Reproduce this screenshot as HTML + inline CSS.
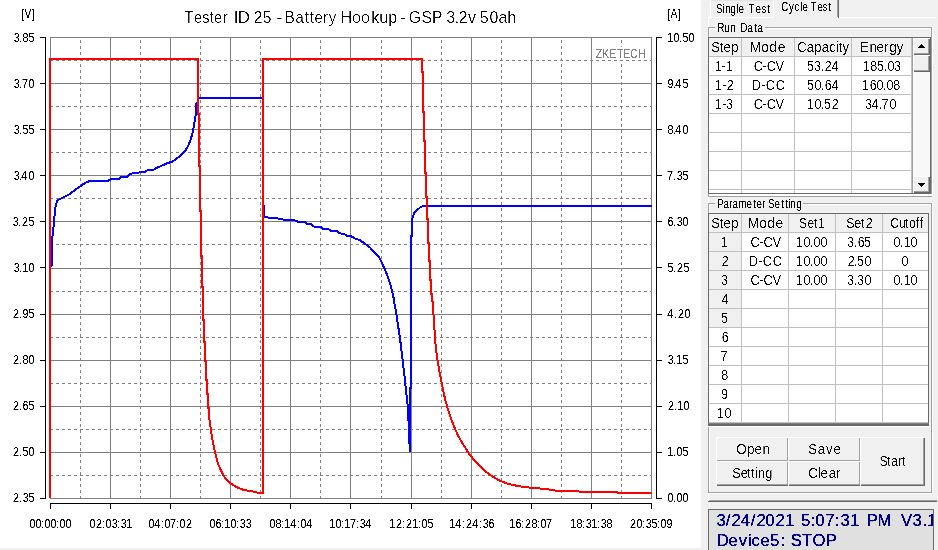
<!DOCTYPE html>
<html lang="en">
<head>
<meta charset="utf-8">
<title>Tester ID 25 - Battery Hookup - GSP 3.2v 50ah</title>
<style>
html,body{margin:0;padding:0;background:#f0f0f0;overflow:hidden}
body{width:938px;height:550px;position:relative;font-family:"Liberation Sans",Arial,sans-serif;font-size:12px;color:#000}
svg{display:block}
.chart{position:absolute;left:0;top:0}
.panel{position:absolute;left:0;top:0;width:938px;height:550px;overflow:hidden;clip-path:inset(0 0 0 701px)}
.panel>div{position:absolute;box-sizing:border-box}
.ptext{position:absolute;left:0;top:0;pointer-events:none}
.ptext text{white-space:pre}
</style>
</head>
<body>
<svg class="chart" width="701" height="548" viewBox="0 0 701 548">
<defs><filter id="crisp" x="-5%" y="-5%" width="110%" height="110%" color-interpolation-filters="sRGB"><feComponentTransfer><feFuncA type="linear" slope="5" intercept="-1.75"/></feComponentTransfer></filter></defs>
<rect x="0" y="0" width="701" height="548" fill="#fff"/>
<g class="grid" stroke="#808080" stroke-width="1" shape-rendering="crispEdges" fill="none">
<line x1="50.5" y1="37" x2="50.5" y2="499"/>
<line x1="80.5" y1="38" x2="80.5" y2="498" stroke-dasharray="3 3" stroke-dashoffset="4"/>
<line x1="110.5" y1="37" x2="110.5" y2="499"/>
<line x1="140.5" y1="38" x2="140.5" y2="498" stroke-dasharray="3 3" stroke-dashoffset="4"/>
<line x1="170.5" y1="37" x2="170.5" y2="499"/>
<line x1="200.5" y1="38" x2="200.5" y2="498" stroke-dasharray="3 3" stroke-dashoffset="4"/>
<line x1="230.5" y1="37" x2="230.5" y2="499"/>
<line x1="260.5" y1="38" x2="260.5" y2="498" stroke-dasharray="3 3" stroke-dashoffset="4"/>
<line x1="290.5" y1="37" x2="290.5" y2="499"/>
<line x1="320.5" y1="38" x2="320.5" y2="498" stroke-dasharray="3 3" stroke-dashoffset="4"/>
<line x1="350.5" y1="37" x2="350.5" y2="499"/>
<line x1="381.5" y1="38" x2="381.5" y2="498" stroke-dasharray="3 3" stroke-dashoffset="4"/>
<line x1="411.5" y1="37" x2="411.5" y2="499"/>
<line x1="441.5" y1="38" x2="441.5" y2="498" stroke-dasharray="3 3" stroke-dashoffset="4"/>
<line x1="471.5" y1="37" x2="471.5" y2="499"/>
<line x1="501.5" y1="38" x2="501.5" y2="498" stroke-dasharray="3 3" stroke-dashoffset="4"/>
<line x1="531.5" y1="37" x2="531.5" y2="499"/>
<line x1="561.5" y1="38" x2="561.5" y2="498" stroke-dasharray="3 3" stroke-dashoffset="4"/>
<line x1="591.5" y1="37" x2="591.5" y2="499"/>
<line x1="621.5" y1="38" x2="621.5" y2="498" stroke-dasharray="3 3" stroke-dashoffset="4"/>
<line x1="651.5" y1="37" x2="651.5" y2="499"/>
<line x1="50" y1="37.5" x2="652" y2="37.5"/>
<line x1="51" y1="60.5" x2="651" y2="60.5" stroke-dasharray="3 3" stroke-dashoffset="1"/>
<line x1="50" y1="83.5" x2="652" y2="83.5"/>
<line x1="51" y1="106.5" x2="651" y2="106.5" stroke-dasharray="3 3" stroke-dashoffset="1"/>
<line x1="50" y1="129.5" x2="652" y2="129.5"/>
<line x1="51" y1="152.5" x2="651" y2="152.5" stroke-dasharray="3 3" stroke-dashoffset="1"/>
<line x1="50" y1="175.5" x2="652" y2="175.5"/>
<line x1="51" y1="198.5" x2="651" y2="198.5" stroke-dasharray="3 3" stroke-dashoffset="1"/>
<line x1="50" y1="221.5" x2="652" y2="221.5"/>
<line x1="51" y1="244.5" x2="651" y2="244.5" stroke-dasharray="3 3" stroke-dashoffset="1"/>
<line x1="50" y1="268.5" x2="652" y2="268.5"/>
<line x1="51" y1="291.5" x2="651" y2="291.5" stroke-dasharray="3 3" stroke-dashoffset="1"/>
<line x1="50" y1="314.5" x2="652" y2="314.5"/>
<line x1="51" y1="337.5" x2="651" y2="337.5" stroke-dasharray="3 3" stroke-dashoffset="1"/>
<line x1="50" y1="360.5" x2="652" y2="360.5"/>
<line x1="51" y1="383.5" x2="651" y2="383.5" stroke-dasharray="3 3" stroke-dashoffset="1"/>
<line x1="50" y1="406.5" x2="652" y2="406.5"/>
<line x1="51" y1="429.5" x2="651" y2="429.5" stroke-dasharray="3 3" stroke-dashoffset="1"/>
<line x1="50" y1="452.5" x2="652" y2="452.5"/>
<line x1="51" y1="475.5" x2="651" y2="475.5" stroke-dasharray="3 3" stroke-dashoffset="1"/>
<line x1="50" y1="498.5" x2="652" y2="498.5"/>
</g>
<polyline class="voltage" points="51.5,267 52,250 52.5,236 53.5,227 54,221 55,212 55.5,207 56.9,201.4 58.8,199.5 64,197 70.1,193.9 75,190 80.1,186.4 85,183 90.2,180.7 108.3,180.7 111.5,179.1 119,179.1 121.5,176.7 127.8,176.7 130.3,173.8 136.6,172.8 145.3,171.9 147.9,169.8 153.5,169.8 156,168.2 161,166 167,163.3 172.6,161.5 180.2,155.8 185.2,150.8 188.3,145.8 190.8,138.9 192.7,132.6 194.2,123.8 195.8,113.8 196.5,103.2 198,102.5 198,98 262.5,98 263,98 263,205.5 264,205.5 264,217 268.8,217.6 277.6,218.5 283.9,219.7 295.2,220.5 297.7,221.7 304.6,221.7 306.4,223.9 310.8,223.9 314,226.6 320.2,226.6 322.8,228.9 328.4,228.9 330.9,231 337.2,231 339.7,233.3 344.7,234.3 347.2,236 351.6,236.5 355,238.5 360,240.3 365.1,243.8 370.1,247.6 374.5,252.6 378.9,257 382,263.2 384.5,268.3 387.7,276.4 390.2,284 392.1,291.5 393.7,298.4 394.5,303.8 396.3,313.8 398.2,326.4 400.1,338.9 401.6,351.5 403,363.4 404.5,376.3 406.1,391.4 407.4,402.7 408.3,412.7 408.9,435.7 410,450.7 410.2,388 411,388 411,236 412,236 412,221 412.9,216.4 414.5,212.6 417.6,209.5 420.8,207 423.3,206.1 651.5,206.1" fill="none" stroke="#0000ff" stroke-width="2" stroke-linejoin="round" shape-rendering="crispEdges"/>
<polyline class="current" points="50,498 50,59 198,59 198,114 199,114 199,166 200,166 200,211 200.9,211 200.9,256 202,256 202,287 202.8,287 202.8,320 203.8,320 203.8,342 205,342 205,361 206,361 206,380 207,380 207,394 208,394 208,408 209.1,408 209.1,417 210.7,428.8 212.9,442.6 215.1,452.6 217.6,462.7 220.8,470.2 223.8,476.3 230.1,483.2 236.4,487 243.9,490.1 252.7,491.4 257.7,492.7 263,492.7 263,59 422,59 422,72 423,72 423,112 424,112 424,141 425,141 425,173 426,173 426,197 427,197 427,219 428,219 428,243 429.1,243 429.1,261 430.1,261 430.1,280 431.1,280 431.1,294 432,294 432.9,307 434,322 435,338 436.1,350 437.8,362 439.6,372.5 442.1,385.1 445.3,400.2 449,412.7 453.4,425 457.8,435 462.8,443.8 469.1,453.9 476.3,462.6 483.8,470.1 491.3,475.8 498.9,480.2 507.6,483.7 517.7,486 530.2,487.7 545.3,488.9 555.3,490.6 576.6,490.6 579.2,491.7 616.7,491.7 617.5,492.9 650.5,492.9 651,494" fill="none" stroke="#ff0000" stroke-width="2" stroke-linejoin="round" shape-rendering="crispEdges"/>
<g class="axes" stroke="#000" stroke-width="1" shape-rendering="crispEdges" fill="none">
<line x1="45.5" y1="37" x2="45.5" y2="499"/>
<line x1="656.5" y1="37" x2="656.5" y2="499"/>
<line x1="50" y1="503.5" x2="652" y2="503.5"/>
<line x1="40" y1="37.5" x2="46" y2="37.5"/>
<line x1="656" y1="37.5" x2="662" y2="37.5"/>
<line x1="50.5" y1="503" x2="50.5" y2="509"/>
<line x1="40" y1="83.5" x2="46" y2="83.5"/>
<line x1="656" y1="83.5" x2="662" y2="83.5"/>
<line x1="110.5" y1="503" x2="110.5" y2="509"/>
<line x1="40" y1="129.5" x2="46" y2="129.5"/>
<line x1="656" y1="129.5" x2="662" y2="129.5"/>
<line x1="170.5" y1="503" x2="170.5" y2="509"/>
<line x1="40" y1="175.5" x2="46" y2="175.5"/>
<line x1="656" y1="175.5" x2="662" y2="175.5"/>
<line x1="230.5" y1="503" x2="230.5" y2="509"/>
<line x1="40" y1="221.5" x2="46" y2="221.5"/>
<line x1="656" y1="221.5" x2="662" y2="221.5"/>
<line x1="290.5" y1="503" x2="290.5" y2="509"/>
<line x1="40" y1="267.5" x2="46" y2="267.5"/>
<line x1="656" y1="267.5" x2="662" y2="267.5"/>
<line x1="350.5" y1="503" x2="350.5" y2="509"/>
<line x1="40" y1="314.5" x2="46" y2="314.5"/>
<line x1="656" y1="314.5" x2="662" y2="314.5"/>
<line x1="411.5" y1="503" x2="411.5" y2="509"/>
<line x1="40" y1="360.5" x2="46" y2="360.5"/>
<line x1="656" y1="360.5" x2="662" y2="360.5"/>
<line x1="471.5" y1="503" x2="471.5" y2="509"/>
<line x1="40" y1="406.5" x2="46" y2="406.5"/>
<line x1="656" y1="406.5" x2="662" y2="406.5"/>
<line x1="531.5" y1="503" x2="531.5" y2="509"/>
<line x1="40" y1="452.5" x2="46" y2="452.5"/>
<line x1="656" y1="452.5" x2="662" y2="452.5"/>
<line x1="591.5" y1="503" x2="591.5" y2="509"/>
<line x1="40" y1="498.5" x2="46" y2="498.5"/>
<line x1="656" y1="498.5" x2="662" y2="498.5"/>
<line x1="651.5" y1="503" x2="651.5" y2="509"/>
</g>
<rect x="594" y="47" width="54" height="13" fill="#fff"/>
<g class="lbl" font-family="'Liberation Sans', Arial, sans-serif" fill="#000" filter="url(#crisp)">
<text transform="translate(13 42) scale(0.8248 1)" font-size="13.08" x="0.909 7.274 11.518 18.792">3.85</text>
<text transform="translate(667 42) scale(0.8248 1)" font-size="13.08" x="0.303 7.881 14.549 18.792 26.067">10.50</text>
<text transform="translate(29 528) scale(0.8248 1)" font-size="13.08" x="0.606 7.881 14.549 18.792 26.067 32.735 36.978 44.253">00:00:00</text>
<text transform="translate(13 88) scale(0.8248 1)" font-size="13.08" x="0.909 7.274 10.912 18.792">3.70</text>
<text transform="translate(667 88) scale(0.8248 1)" font-size="13.08" x="0.606 7.274 10.002 18.792">9.45</text>
<text transform="translate(89 528) scale(0.8248 1)" font-size="13.08" x="0.606 8.487 15.761 20.005 27.582 33.947 38.494 45.162">02:03:31</text>
<text transform="translate(13 134) scale(0.8248 1)" font-size="13.08" x="0.909 7.274 11.518 18.792">3.55</text>
<text transform="translate(667 134) scale(0.8248 1)" font-size="13.08" x="0.606 7.274 10.002 18.792">8.40</text>
<text transform="translate(148 528) scale(0.8248 1)" font-size="13.08" x="0.606 7.578 15.761 20.005 26.673 33.947 38.191 46.071">04:07:02</text>
<text transform="translate(13 180) scale(0.8248 1)" font-size="13.08" x="0.909 7.274 10.002 18.792">3.40</text>
<text transform="translate(667 180) scale(0.8248 1)" font-size="13.08" x="0 7.274 11.821 18.792">7.35</text>
<text transform="translate(209 528) scale(0.8248 1)" font-size="13.08" x="0.606 7.881 14.549 18.489 26.067 32.735 37.282 44.556">06:10:33</text>
<text transform="translate(12 226) scale(0.8248 1)" font-size="13.08" x="0.909 7.274 12.124 20.005">3.25</text>
<text transform="translate(667 226) scale(0.8248 1)" font-size="13.08" x="0.606 7.274 11.821 18.792">6.30</text>
<text transform="translate(269 528) scale(0.8248 1)" font-size="13.08" x="0.606 7.881 14.549 18.489 25.764 33.947 38.191 45.162">08:14:04</text>
<text transform="translate(13 272) scale(0.8248 1)" font-size="13.08" x="0.909 7.274 11.215 18.792">3.10</text>
<text transform="translate(667 272) scale(0.8248 1)" font-size="13.08" x="0.606 7.274 12.124 20.005">5.25</text>
<text transform="translate(329 528) scale(0.8248 1)" font-size="13.08" x="0.303 7.881 14.549 18.489 25.461 32.735 37.282 43.95">10:17:34</text>
<text transform="translate(13 318) scale(0.8248 1)" font-size="13.08" x="0 7.274 11.518 18.792">2.95</text>
<text transform="translate(667 318) scale(0.8248 1)" font-size="13.08" x="0.303 8.487 13.336 21.217">4.20</text>
<text transform="translate(389 528) scale(0.8248 1)" font-size="13.08" x="0.303 8.487 15.761 20.611 28.188 35.16 39.403 46.678">12:21:05</text>
<text transform="translate(13 364) scale(0.8248 1)" font-size="13.08" x="0 7.274 11.518 18.792">2.80</text>
<text transform="translate(667 364) scale(0.8248 1)" font-size="13.08" x="0.909 7.274 11.215 18.792">3.15</text>
<text transform="translate(449 528) scale(0.8248 1)" font-size="13.08" x="0.303 7.578 15.761 20.611 28.188 36.372 40.919 47.89">14:24:36</text>
<text transform="translate(13 410) scale(0.8248 1)" font-size="13.08" x="0 7.274 11.518 18.792">2.65</text>
<text transform="translate(668 410) scale(0.8248 1)" font-size="13.08" x="0 7.274 11.215 18.792">2.10</text>
<text transform="translate(509 528) scale(0.8248 1)" font-size="13.08" x="0.303 7.881 14.549 19.399 27.279 33.947 38.191 44.859">16:28:07</text>
<text transform="translate(13 456) scale(0.8248 1)" font-size="13.08" x="0 7.274 11.518 18.792">2.50</text>
<text transform="translate(667 456) scale(0.8248 1)" font-size="13.08" x="0.303 7.274 11.518 18.792">1.05</text>
<text transform="translate(570 528) scale(0.8248 1)" font-size="13.08" x="0.303 7.881 14.549 19.095 25.764 32.735 37.282 44.253">18:31:38</text>
<text transform="translate(13 502) scale(0.8248 1)" font-size="13.08" x="0 7.274 11.821 18.792">2.35</text>
<text transform="translate(667 502) scale(0.8248 1)" font-size="13.08" x="0.606 7.274 11.518 18.792">0.00</text>
<text transform="translate(630 528) scale(0.8248 1)" font-size="13.08" x="0 7.881 14.549 19.095 26.067 32.735 36.978 44.253">20:35:09</text>
<text transform="translate(21 18) scale(0.7813 1)" font-size="13.08" x="0.32 4.48 13.759">[V]</text>
<text transform="translate(667 18) scale(0.7945 1)" font-size="13.08" x="0.315 4.405 13.531">[A]</text>
<text transform="translate(595 58) scale(0.7929 1)" font-size="13.08" x="0.946 9.144 17.972 28.062 35.629 44.458 54.547" fill="#808080">ZKETECH</text>
</g>
<defs><filter id="soft" x="-5%" y="-5%" width="110%" height="110%" color-interpolation-filters="sRGB"><feComponentTransfer><feFuncA type="linear" slope="4" intercept="-1.98"/></feComponentTransfer></filter></defs>
<g class="title" font-family="'Liberation Sans', Arial, sans-serif" fill="#000" filter="url(#soft)">
<text transform="translate(184 23) scale(0.8579 1)" font-size="17" x="0.583 11.656 21.272 30.014 34.967 45.458">Tester</text>
<text transform="translate(233 23) scale(0.9894 1)" font-size="17" x="0.758 4.801">ID</text>
<text transform="translate(253 23) scale(0.923 1)" font-size="17" x="0.813 10.563">25</text>
<text transform="translate(276 23) scale(1.0443 1)" font-size="17" x="0.479">-</text>
<text transform="translate(284 23) scale(0.8819 1)" font-size="17" x="0.85 13.039 23.528 29.197 34.583 44.22 50.74">Battery</text>
<text transform="translate(340 23) scale(0.9501 1)" font-size="17" x="0.526 12.63 22.103 32.892 41.312 50.785">Hookup</text>
<text transform="translate(400 23) scale(0.8915 1)" font-size="17" x="0.561">-</text>
<text transform="translate(408 23) scale(0.926 1)" font-size="17" x="0.81 14.579 25.918">GSP</text>
<text transform="translate(446 23) scale(0.9388 1)" font-size="17" x="0.266 9.32 13.581 23.434">3.2v</text>
<text transform="translate(479 23) scale(0.9415 1)" font-size="17" x="0.797 11.152 20.711 30.005">50ah</text>
</g>
</svg>
<div class="panel">
<div style="left:708px;top:17px;width:229px;height:1px;background:#fff"></div>
<div style="left:708px;top:500px;width:229px;height:1px;background:#a0a0a0"></div>
<div style="left:708px;top:501px;width:229px;height:1px;background:#696969"></div>
<div style="left:708px;top:17px;width:1px;height:484px;background:#fff"></div>
<div style="left:710px;top:0px;width:1px;height:17px;background:#fff"></div>
<div style="left:711px;top:0px;width:62px;height:1px;background:#e3e3e3"></div>
<div style="left:774px;top:0px;width:63px;height:18px;background:#f0f0f0"></div>
<div style="left:773px;top:0px;width:1px;height:18px;background:#fff"></div>
<div style="left:837px;top:0px;width:1px;height:17px;background:#a0a0a0"></div>
<div style="left:838px;top:0px;width:1px;height:18px;background:#696969"></div>
<div style="left:708px;top:27px;width:224px;height:1px;background:#a0a0a0"></div>
<div style="left:709px;top:28px;width:224px;height:1px;background:#fff"></div>
<div style="left:708px;top:27px;width:1px;height:170px;background:#a0a0a0"></div>
<div style="left:709px;top:28px;width:1px;height:169px;background:#fff"></div>
<div style="left:931px;top:27px;width:1px;height:170px;background:#a0a0a0"></div>
<div style="left:932px;top:27px;width:1px;height:170px;background:#fff"></div>
<div style="left:708px;top:196px;width:224px;height:1px;background:#a0a0a0"></div>
<div style="left:715px;top:23px;width:50px;height:10px;background:#f0f0f0"></div>
<div style="left:708px;top:203px;width:224px;height:1px;background:#a0a0a0"></div>
<div style="left:709px;top:204px;width:224px;height:1px;background:#fff"></div>
<div style="left:708px;top:203px;width:1px;height:290px;background:#a0a0a0"></div>
<div style="left:709px;top:204px;width:1px;height:289px;background:#fff"></div>
<div style="left:931px;top:203px;width:1px;height:290px;background:#a0a0a0"></div>
<div style="left:932px;top:203px;width:1px;height:291px;background:#fff"></div>
<div style="left:708px;top:492px;width:224px;height:1px;background:#a0a0a0"></div>
<div style="left:708px;top:493px;width:225px;height:1px;background:#fff"></div>
<div style="left:715px;top:199px;width:88px;height:10px;background:#f0f0f0"></div>
<div style="left:708px;top:37px;width:1px;height:157px;background:#696969"></div>
<div style="left:708px;top:37px;width:223px;height:1px;background:#696969"></div>
<div style="left:709px;top:38px;width:203px;height:155px;background:#fff"></div>
<div style="left:709px;top:38px;width:202px;height:18px;background:#f0f0f0"></div>
<div style="left:709px;top:56px;width:203px;height:1px;background:#c0c0c0"></div>
<div style="left:709px;top:75px;width:203px;height:1px;background:#c0c0c0"></div>
<div style="left:709px;top:94px;width:203px;height:1px;background:#c0c0c0"></div>
<div style="left:709px;top:113px;width:203px;height:1px;background:#c0c0c0"></div>
<div style="left:709px;top:132px;width:203px;height:1px;background:#c0c0c0"></div>
<div style="left:709px;top:151px;width:203px;height:1px;background:#c0c0c0"></div>
<div style="left:709px;top:170px;width:203px;height:1px;background:#c0c0c0"></div>
<div style="left:709px;top:189px;width:203px;height:1px;background:#c0c0c0"></div>
<div style="left:741px;top:38px;width:1px;height:155px;background:#c0c0c0"></div>
<div style="left:794px;top:38px;width:1px;height:155px;background:#c0c0c0"></div>
<div style="left:851px;top:38px;width:1px;height:155px;background:#c0c0c0"></div>
<div style="left:911px;top:38px;width:1px;height:155px;background:#c0c0c0"></div>
<div style="left:708px;top:193px;width:223px;height:1px;background:#696969"></div>
<div style="left:709px;top:194px;width:223px;height:1px;background:#fff"></div>
<div style="left:709px;top:195px;width:223px;height:1px;background:#fff"></div>
<div style="left:912px;top:38px;width:1px;height:155px;background:#a0a0a0"></div>
<div style="left:913px;top:38px;width:17px;height:155px;background:#f8f8f8"></div>
<div class="b" style="left:913px;top:38px;width:17px;height:17px;background:#f0f0f0;box-shadow:inset 1px 1px 0 #fff, inset -1px -1px 0 #696969, inset -2px -2px 0 #a0a0a0;"><svg width="17" height="17" viewBox="0 0 17 17"><path d="M5 10h7l-3.5-4z" fill="#000" shape-rendering="crispEdges"/></svg></div>
<div class="b" style="left:913px;top:55px;width:17px;height:17px;background:#f0f0f0;box-shadow:inset 1px 1px 0 #fff, inset -1px -1px 0 #696969, inset -2px -2px 0 #a0a0a0;"></div>
<div class="b" style="left:913px;top:176px;width:17px;height:17px;background:#f0f0f0;box-shadow:inset 1px 1px 0 #fff, inset -1px -1px 0 #696969, inset -2px -2px 0 #a0a0a0;"><svg width="17" height="17" viewBox="0 0 17 17"><path d="M5 7h7l-3.5 4z" fill="#000" shape-rendering="crispEdges"/></svg></div>
<div style="left:930px;top:37px;width:1px;height:157px;background:#696969"></div>
<div style="left:708px;top:213px;width:221px;height:213px;background:#696969"></div>
<div style="left:709px;top:214px;width:219px;height:209px;background:#fff"></div>
<div style="left:709px;top:214px;width:219px;height:18px;background:#f0f0f0"></div>
<div style="left:709px;top:214px;width:32px;height:113px;background:#f0f0f0"></div>
<div style="left:709px;top:232px;width:219px;height:1px;background:#c0c0c0"></div>
<div style="left:709px;top:251px;width:219px;height:1px;background:#c0c0c0"></div>
<div style="left:709px;top:270px;width:219px;height:1px;background:#c0c0c0"></div>
<div style="left:709px;top:289px;width:219px;height:1px;background:#c0c0c0"></div>
<div style="left:709px;top:308px;width:219px;height:1px;background:#c0c0c0"></div>
<div style="left:709px;top:327px;width:219px;height:1px;background:#c0c0c0"></div>
<div style="left:709px;top:346px;width:219px;height:1px;background:#c0c0c0"></div>
<div style="left:709px;top:365px;width:219px;height:1px;background:#c0c0c0"></div>
<div style="left:709px;top:384px;width:219px;height:1px;background:#c0c0c0"></div>
<div style="left:709px;top:403px;width:219px;height:1px;background:#c0c0c0"></div>
<div style="left:709px;top:422px;width:219px;height:1px;background:#c0c0c0"></div>
<div style="left:741px;top:214px;width:1px;height:209px;background:#c0c0c0"></div>
<div style="left:788px;top:214px;width:1px;height:209px;background:#c0c0c0"></div>
<div style="left:835px;top:214px;width:1px;height:209px;background:#c0c0c0"></div>
<div style="left:882px;top:214px;width:1px;height:209px;background:#c0c0c0"></div>
<div style="left:708px;top:423px;width:221px;height:1px;background:#808080"></div>
<div style="left:708px;top:426px;width:222px;height:1px;background:#fff"></div>
<div class="btn" style="left:716px;top:437px;width:73px;height:25px;background:#f0f0f0;box-shadow:inset 1px 1px 0 #fff, inset -1px -1px 0 #696969, inset -2px -2px 0 #a0a0a0;"></div>
<div class="btn" style="left:788px;top:437px;width:73px;height:25px;background:#f0f0f0;box-shadow:inset 1px 1px 0 #fff, inset -1px -1px 0 #696969, inset -2px -2px 0 #a0a0a0;"></div>
<div class="btn" style="left:716px;top:461px;width:73px;height:25px;background:#f0f0f0;box-shadow:inset 1px 1px 0 #fff, inset -1px -1px 0 #696969, inset -2px -2px 0 #a0a0a0;"></div>
<div class="btn" style="left:788px;top:461px;width:73px;height:25px;background:#f0f0f0;box-shadow:inset 1px 1px 0 #fff, inset -1px -1px 0 #696969, inset -2px -2px 0 #a0a0a0;"></div>
<div class="btn" style="left:860px;top:437px;width:65px;height:49px;background:#f0f0f0;box-shadow:inset 1px 1px 0 #fff, inset -1px -1px 0 #696969, inset -2px -2px 0 #a0a0a0;"></div>
<div class="status" style="left:708px;top:509px;width:226px;height:41px;background:#e0e0e0;box-shadow:inset 1px 1px 0 #696969, inset -1px 0 0 #696969;"></div>
</div>
<svg class="ptext" width="938" height="550" viewBox="0 0 938 550" font-family="'Liberation Sans', Arial, sans-serif">
<defs><filter id="crisp2" x="-5%" y="-5%" width="110%" height="110%" color-interpolation-filters="sRGB"><feComponentTransfer><feFuncA type="linear" slope="5" intercept="-1.75"/></feComponentTransfer></filter></defs>
<defs><filter id="crisp3" x="-5%" y="-5%" width="110%" height="110%" color-interpolation-filters="sRGB"><feComponentTransfer><feFuncA type="linear" slope="5" intercept="-1"/></feComponentTransfer></filter><filter id="crisp4" x="-5%" y="-5%" width="110%" height="110%" color-interpolation-filters="sRGB"><feComponentTransfer><feFuncA type="linear" slope="5" intercept="-2.25"/></feComponentTransfer></filter></defs>
<g class="labels" fill="#000" filter="url(#crisp2)">
<text transform="translate(716 13) scale(0.7537 1)" font-size="13.08" x="0 8.624 12.273 18.907 27.2 29.854 37.128 43.122 52.41 60.371 68">Single Test</text>
<text transform="translate(781 11) scale(0.744 1)" font-size="13.08" x="0.336 10.752 18.145 26.209 28.897 36.172 39.65 49.058 55.779 63.507">Cycle Test</text>
<text transform="translate(717 32) scale(0.7619 1)" font-size="13.08" x="0.328 9.516 17.392 24.666 30.517 39.706 48.894 52.831">Run Data</text>
<text transform="translate(717 208) scale(0.7508 1)" font-size="13.08" x="0.333 8.657 16.316 20.644 28.636 39.291 48.281 52.61 60.268 64.624 67.927 76.584 85.574 90.902 95.231 97.561 105.553">Parameter Setting</text>
</g>
<g class="celltext" fill="#000" filter="url(#crisp4)">
<text transform="translate(711 52) scale(0.9385 1)" font-size="14" x="0.266 9.324 13.32 21.578">Step</text>
<text transform="translate(749 52) scale(0.991 1)" font-size="14" x="0.757 12.361 20.434 29.011">Mode</text>
<text transform="translate(797 52) scale(0.9395 1)" font-size="14" x="0.266 10.378 18.361 26.344 34.327 41.512 44.439 48.431">Capacity</text>
<text transform="translate(859 52) scale(0.9772 1)" font-size="14" x="0.767 10.744 17.907 25.582 30.954 38.373">Energy</text>
<text transform="translate(715 71) scale(0.8453 1)" font-size="14" x="0 7.69 13.014">1-1</text>
<text transform="translate(753 71) scale(0.9161 1)" font-size="14" x="0.819 10.37 15.009 24.56">C-CV</text>
<text transform="translate(807 71) scale(0.899 1)" font-size="14" x="0 7.786 15.294 19.743 27.251">53.24</text>
<text transform="translate(862 71) scale(0.899 1)" font-size="14" x="0.834 9.176 16.684 24.193 28.364 35.594">185.03</text>
<text transform="translate(714 90) scale(0.9153 1)" font-size="14" x="0.819 9.286 13.93">1-2</text>
<text transform="translate(751 90) scale(0.9125 1)" font-size="14" x="0.822 11.507 16.165 27.125">D-CC</text>
<text transform="translate(807 90) scale(0.899 1)" font-size="14" x="0 8.342 15.294 19.743 27.251">50.64</text>
<text transform="translate(861 90) scale(0.899 1)" font-size="14" x="0.834 9.733 17.241 24.193 28.364 35.872">160.08</text>
<text transform="translate(714 109) scale(0.9145 1)" font-size="14" x="0.82 9.294 13.121">1-3</text>
<text transform="translate(753 109) scale(0.9161 1)" font-size="14" x="0.819 10.37 15.009 24.56">C-CV</text>
<text transform="translate(806 109) scale(0.899 1)" font-size="14" x="0.834 9.455 16.406 20.021 28.642">10.52</text>
<text transform="translate(865 109) scale(0.899 1)" font-size="14" x="0 7.23 15.294 18.353 27.251">34.70</text>
<text transform="translate(711 228) scale(0.9385 1)" font-size="14" x="0.266 9.324 13.32 21.578">Step</text>
<text transform="translate(747 228) scale(0.9962 1)" font-size="14" x="0.753 12.297 20.327 28.608">Mode</text>
<text transform="translate(799 228) scale(0.856 1)" font-size="14" x="0 9.93 17.524 22.197">Set1</text>
<text transform="translate(846 228) scale(0.8995 1)" font-size="14" x="0.278 9.172 16.676 21.956">Set2</text>
<text transform="translate(890 228) scale(0.8696 1)" font-size="14" x="0.287 10.349 17.249 21.848 29.61 34.21">Cutoff</text>
<text transform="translate(720 247) scale(0.899 1)" font-size="14" x="0.834">1</text>
<text transform="translate(750 247) scale(0.9251 1)" font-size="14" x="0.54 9.999 14.593 24.322">C-CV</text>
<text transform="translate(795 247) scale(0.899 1)" font-size="14" x="0.834 9.455 16.406 20.578 28.364">10.00</text>
<text transform="translate(847 247) scale(0.899 1)" font-size="14" x="0 7.508 11.957 18.909">3.65</text>
<text transform="translate(893 247) scale(0.899 1)" font-size="14" x="0.556 7.508 11.957 19.465">0.10</text>
<text transform="translate(721 266) scale(0.899 1)" font-size="14" x="0.834">2</text>
<text transform="translate(748 266) scale(0.9154 1)" font-size="14" x="0.819 11.471 16.114 27.039">D-CC</text>
<text transform="translate(795 266) scale(0.899 1)" font-size="14" x="0.834 9.455 16.406 20.578 28.364">10.00</text>
<text transform="translate(847 266) scale(0.899 1)" font-size="14" x="0.834 7.508 11.123 19.465">2.50</text>
<text transform="translate(901 266) scale(0.899 1)" font-size="14" x="0.556">0</text>
<text transform="translate(721 285) scale(0.899 1)" font-size="14" x="0">3</text>
<text transform="translate(750 285) scale(0.9251 1)" font-size="14" x="0.54 9.999 14.593 24.322">C-CV</text>
<text transform="translate(795 285) scale(0.899 1)" font-size="14" x="0.834 9.455 16.406 20.578 28.364">10.00</text>
<text transform="translate(847 285) scale(0.899 1)" font-size="14" x="0 7.508 11.123 19.465">3.30</text>
<text transform="translate(893 285) scale(0.899 1)" font-size="14" x="0.556 7.508 11.957 19.465">0.10</text>
<text transform="translate(721 304) scale(0.899 1)" font-size="14" x="0.556">4</text>
<text transform="translate(721 323) scale(0.899 1)" font-size="14" x="0">5</text>
<text transform="translate(721 342) scale(0.899 1)" font-size="14" x="0.834">6</text>
<text transform="translate(720 361) scale(0.899 1)" font-size="14" x="0.556">7</text>
<text transform="translate(721 380) scale(0.899 1)" font-size="14" x="0.278">8</text>
<text transform="translate(721 399) scale(0.899 1)" font-size="14" x="0">9</text>
<text transform="translate(716 418) scale(0.899 1)" font-size="14" x="0.834 9.455">10</text>
<text transform="translate(736 454) scale(0.9632 1)" font-size="14" x="0.26 11.42 19.207 27.512">Open</text>
<text transform="translate(808 454) scale(0.9512 1)" font-size="14" x="0.263 10.25 18.922 26.807">Save</text>
<text transform="translate(732 478) scale(0.922 1)" font-size="14" x="0.271 9.49 16.268 20.607 24.945 28.198 36.062">Setting</text>
<text transform="translate(808 478) scale(0.9573 1)" font-size="14" x="0.261 10.446 13.057 21.675 29.248">Clear</text>
<text transform="translate(879 466) scale(0.8938 1)" font-size="14" x="0.559 8.95 13.425 21.257 25.732">Start</text>
</g>
<clipPath id="stclip"><rect x="709" y="510" width="224" height="40"/></clipPath>
<g class="statustext" fill="#000080" clip-path="url(#stclip)"><g filter="url(#crisp3)">
<text transform="translate(716 526) scale(0.98 1)" font-size="17" x="0.51 9.949 15.816 25.255 35.459 41.327 50.255 60.714 70.663 80.118 86.735 96.684 101.276 111.48 121.173 127.041 136.99 146.444 153.827 164.796 178.957 188.776 200.51 210.969 215.561">3/24/2021 5:07:31 PM V3.1</text>
<text transform="translate(716 546) scale(0.98 1)" font-size="17" x="0.765 12.755 23.214 32.653 36.224 45.408 55.102 66.071 70.795 76.276 87.755 98.469 111.99">Device5: STOP</text>
</g></g>
</svg>
</body>
</html>
